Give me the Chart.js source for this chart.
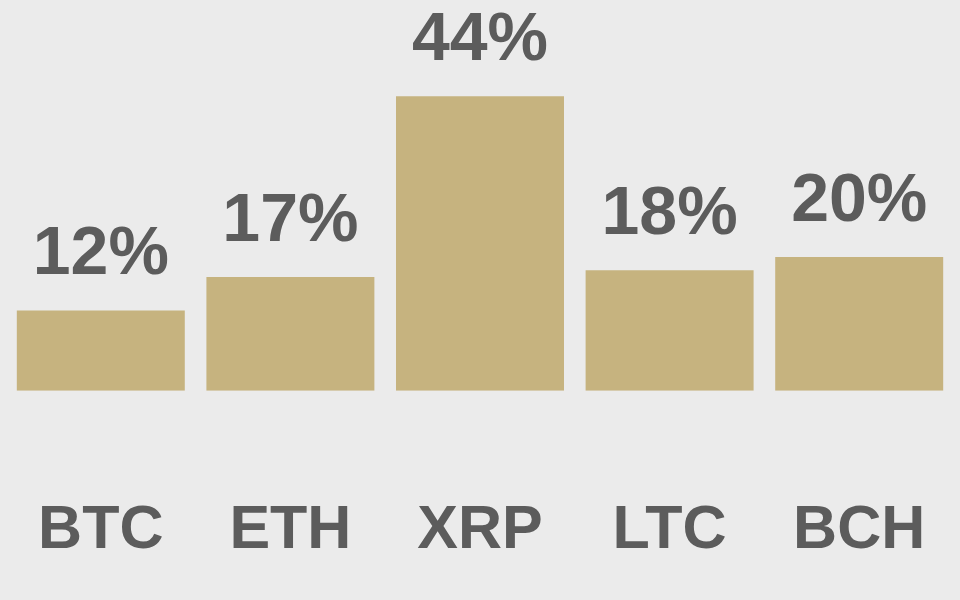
<!DOCTYPE html>
<html>
<head>
<meta charset="utf-8">
<script src="https://cdn.jsdelivr.net/npm/chart.js@4/dist/chart.umd.min.js"></script>
<style>
  html, body { margin: 0; padding: 0; background: #ebebeb; }
  #wrap { width: 960px; height: 600px; }
</style>
</head>
<body>
<div id="wrap"><canvas id="coinChart"></canvas></div>
<script>
// share per coin, in percent
const coins = ['BTC', 'ETH', 'XRP', 'LTC', 'BCH'];
const shares = [12, 17, 44, 18, 20];
const yMax = 58.4;

const barColor = '#c6b37f';
const textColor = '#5c5c5c';

// draws the "NN%" label above each bar
const valueLabels = {
    id: 'valueLabels',
    afterDatasetsDraw(chart) {
        const ctx = chart.ctx;
        const meta = chart.getDatasetMeta(0);
        ctx.save();
        ctx.font = 'bold 68px "Liberation Sans", Arial, sans-serif';
        ctx.fillStyle = textColor;
        ctx.textAlign = 'center';
        ctx.textBaseline = 'alphabetic';
        meta.data.forEach((bar, i) => {
            ctx.fillText(shares[i] + '%', bar.x, bar.y - 36);
        });
        ctx.restore();
    }
};

const ctx = document.getElementById('coinChart').getContext('2d');
new Chart(ctx, {
    type: 'bar',
    data: {
        labels: coins,
        datasets: [{
            data: shares,
            backgroundColor: barColor,
            borderWidth: 0,
            barPercentage: 0.886,
            categoryPercentage: 1
        }]
    },
    options: {
        responsive: true,
        maintainAspectRatio: false,
        animation: false,
        layout: { padding: { left: 6, right: 6, top: 0, bottom: 32 } },
        plugins: {
            legend: { display: false },
            tooltip: { enabled: false }
        },
        scales: {
            y: {
                display: false,
                min: 0,
                max: yMax
            },
            x: {
                // invisible tick marks give the gap between bars and labels
                grid: {
                    display: true,
                    drawOnChartArea: false,
                    drawTicks: true,
                    tickLength: 104,
                    color: 'rgba(0,0,0,0)'
                },
                border: { display: false },
                ticks: {
                    color: textColor,
                    padding: 0,
                    maxRotation: 0,
                    minRotation: 0,
                    autoSkip: false,
                    font: { family: '"Liberation Sans", Arial, sans-serif', size: 61, weight: 'bold' }
                }
            }
        }
    },
    plugins: [valueLabels]
});
</script>
</body>
</html>
